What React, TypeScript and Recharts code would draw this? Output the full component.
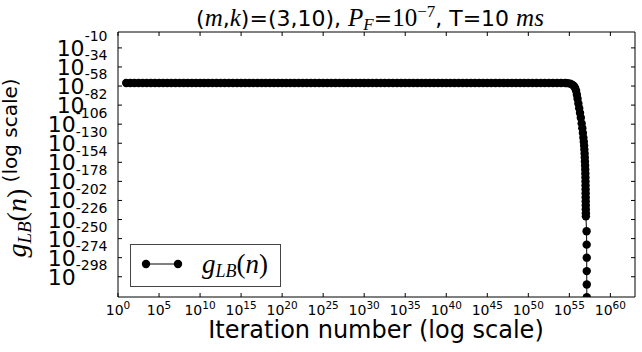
import { Line, LineChart, XAxis, YAxis } from "recharts";

// exponents (log10)
const plateauIterExp = [
  1, 1.5, 2, 2.5, 3, 3.5, 4, 4.5, 5, 5.5, 6, 6.5, 7, 7.5, 8, 8.5, 9, 9.5, 10, 10.5,
  11, 11.5, 12, 12.5, 13, 13.5, 14, 14.5, 15, 15.5, 16, 16.5, 17, 17.5, 18, 18.5, 19, 19.5, 20, 20.5,
  21, 21.5, 22, 22.5, 23, 23.5, 24, 24.5, 25, 25.5, 26, 26.5, 27, 27.5, 28, 28.5, 29, 29.5, 30, 30.5,
  31, 31.5, 32, 32.5, 33, 33.5, 34, 34.5, 35, 35.5, 36, 36.5, 37, 37.5, 38, 38.5, 39, 39.5, 40, 40.5,
  41, 41.5, 42, 42.5, 43, 43.5, 44, 44.5, 45, 45.5, 46, 46.5, 47, 47.5, 48, 48.5, 49, 49.5, 50, 50.5,
  51, 51.5, 52, 52.5, 53, 53.5, 54, 54.5,
];
const plateauLevel = -54.2;

const dropIterExp = [
  54.8, 55.1, 55.35, 55.55, 55.7, 55.82, 55.92, 56.0, 56.1, 56.2, 56.3, 56.4, 56.5, 56.58, 56.65,
  56.71, 56.76, 56.8, 56.83, 56.86, 56.88, 56.9, 56.92, 56.935, 56.95, 56.96, 56.97, 56.975, 56.98,
  56.985, 56.99, 56.995, 57.0, 57.005, 57.01, 57.015,
];
const dropLevel = [
  -54.4, -55.0, -56.2, -58.0, -60.5, -64, -69, -74, -80, -86, -92, -98, -105, -111, -117,
  -123, -128, -133, -138, -143, -148, -153, -158, -163, -168, -173, -178, -183, -188,
  -193, -198, -203, -208, -213, -218, -222,
];

const tailIterExp = [57.1, 57.11, 57.12, 57.12, 57.125, 57.13];
const tailLevel = [-240.8, -257.6, -274, -290.9, -307.7, -323.8];

const xTickExp = [0, 5, 10, 15, 20, 25, 30, 35, 40, 45, 50, 55, 60];
const yTickExp = [-10, -34, -58, -82, -106, -130, -154, -178, -202, -226, -250, -274, -298];

const data = [
  ...plateauIterExp.map((n) => ({ n, g: plateauLevel })),
  ...dropIterExp.map((n, i) => ({ n, g: dropLevel[i] })),
  ...tailIterExp.map((n, i) => ({ n, g: tailLevel[i] })),
];

const SANS = "DejaVu Sans";
const MATH = "Liberation Serif";

function BottomTick({ x, y, payload }: any) {
  return (
    <g>
      <line x1={x} x2={x} y1={y} y2={y - 4} stroke="#000" />
      <text x={x} y={y + 18} textAnchor="middle" fontFamily={SANS} fontSize={14} fill="#000">
        10
        <tspan dy={-6} fontSize={10.5}>
          {payload.value}
        </tspan>
      </text>
    </g>
  );
}

function TopTick({ x, y }: any) {
  return <line x1={x} x2={x} y1={y} y2={y + 4} stroke="#000" />;
}

function LeftTick({ x, y, payload }: any) {
  return (
    <g>
      <line x1={x} x2={x + 4} y1={y} y2={y} stroke="#000" />
      <text x={107.5} y={y + 8} textAnchor="end" fontFamily={SANS} fontSize={22} fill="#000">
        10
        <tspan dy={-14.6} fontSize={14}>
          {payload.value}
        </tspan>
      </text>
    </g>
  );
}

function RightTick({ x, y }: any) {
  return <line x1={x} x2={x - 4} y1={y} y2={y} stroke="#000" />;
}

export default function App() {
  return (
    <div style={{ position: "absolute", left: 0, top: 0, width: 642, height: 352, background: "#fff" }}>
      <LineChart width={642} height={352} data={data} margin={{ top: 31, right: 6, bottom: 54, left: 117 }}>
        <XAxis
          dataKey="n"
          type="number"
          domain={[0, 63]}
          ticks={xTickExp}
          interval={0}
          height={1}
          tickSize={0}
          tickMargin={0}
          tickLine={false}
          axisLine={{ stroke: "#000" }}
          tick={<BottomTick />}
          allowDataOverflow
        />
        <XAxis
          xAxisId="top"
          orientation="top"
          dataKey="n"
          type="number"
          domain={[0, 63]}
          ticks={xTickExp}
          interval={0}
          height={1}
          tickSize={0}
          tickMargin={0}
          tickLine={false}
          axisLine={{ stroke: "#000" }}
          tick={<TopTick />}
          allowDataOverflow
        />
        <YAxis
          type="number"
          domain={[-323.5, 10]}
          ticks={yTickExp}
          interval={0}
          width={1}
          tickSize={0}
          tickMargin={0}
          tickLine={false}
          axisLine={{ stroke: "#000" }}
          tick={<LeftTick />}
          allowDataOverflow
        />
        <YAxis
          yAxisId="right"
          orientation="right"
          type="number"
          domain={[-323.5, 10]}
          ticks={yTickExp}
          interval={0}
          width={1}
          tickSize={0}
          tickMargin={0}
          tickLine={false}
          axisLine={{ stroke: "#000" }}
          tick={<RightTick />}
          allowDataOverflow
        />
        <Line
          dataKey="g"
          type="linear"
          stroke="#000"
          strokeWidth={1}
          dot={{ r: 4.2, fill: "#000", stroke: "#000", strokeWidth: 0 }}
          activeDot={false}
          isAnimationActive={false}
        />
      </LineChart>
      <svg
        width={642}
        height={352}
        style={{ position: "absolute", left: 0, top: 0, pointerEvents: "none" }}
      >
        <text x={370} y={26} textAnchor="middle" fontFamily={SANS} fontSize={22} fill="#000">
          (<tspan fontFamily={MATH} fontStyle="italic" fontSize={25}>m</tspan>,
          <tspan fontFamily={MATH} fontStyle="italic" fontSize={25}>k</tspan>)=(3,10),{" "}
          <tspan fontFamily={MATH} fontStyle="italic" fontSize={25}>P</tspan>
          <tspan dy={4} fontFamily={MATH} fontStyle="italic" fontSize={17}>F</tspan>
          <tspan dy={-4}>=</tspan>
          <tspan fontFamily={MATH} fontSize={25}>10</tspan>
          <tspan dy={-9} fontFamily={MATH} fontSize={17}>−7</tspan>
          <tspan dy={9}>, T=10 </tspan>
          <tspan fontFamily={MATH} fontStyle="italic" fontSize={25}>ms</tspan>
        </text>
        <text
          transform="translate(16.5,168) rotate(-90)"
          textAnchor="middle"
          fontFamily={SANS}
          fontSize={20}
          fill="#000"
        >
          <tspan dy={9} fontFamily={MATH} fontStyle="italic" fontSize={28}>g</tspan>
          <tspan dy={5} fontFamily={MATH} fontStyle="italic" fontSize={19}>LB</tspan>
          <tspan dy={-5} fontFamily={MATH} fontSize={28}>(</tspan>
          <tspan fontFamily={MATH} fontStyle="italic" fontSize={28}>n</tspan>
          <tspan fontFamily={MATH} fontSize={28}>)</tspan>
          <tspan dy={-9}>  (log scale)</tspan>
        </text>
        <text x={376} y={338} textAnchor="middle" fontFamily={SANS} fontSize={24} fill="#000">
          Iteration number (log scale)
        </text>
        <rect x={130.5} y={244.5} width={150} height={42} fill="#fff" stroke="#444" strokeWidth={1} />
        <line x1={146} x2={178} y1={264} y2={264} stroke="#000" strokeWidth={1} />
        <circle cx={146} cy={264} r={4.2} fill="#000" />
        <circle cx={178} cy={264} r={4.2} fill="#000" />
        <text x={202} y={273} fontFamily={MATH} fontSize={27} fill="#000">
          <tspan fontStyle="italic">g</tspan>
          <tspan dy={4} fontStyle="italic" fontSize={18}>LB</tspan>
          <tspan dy={-4}>(</tspan>
          <tspan fontStyle="italic">n</tspan>
          <tspan>)</tspan>
        </text>
      </svg>
    </div>
  );
}
